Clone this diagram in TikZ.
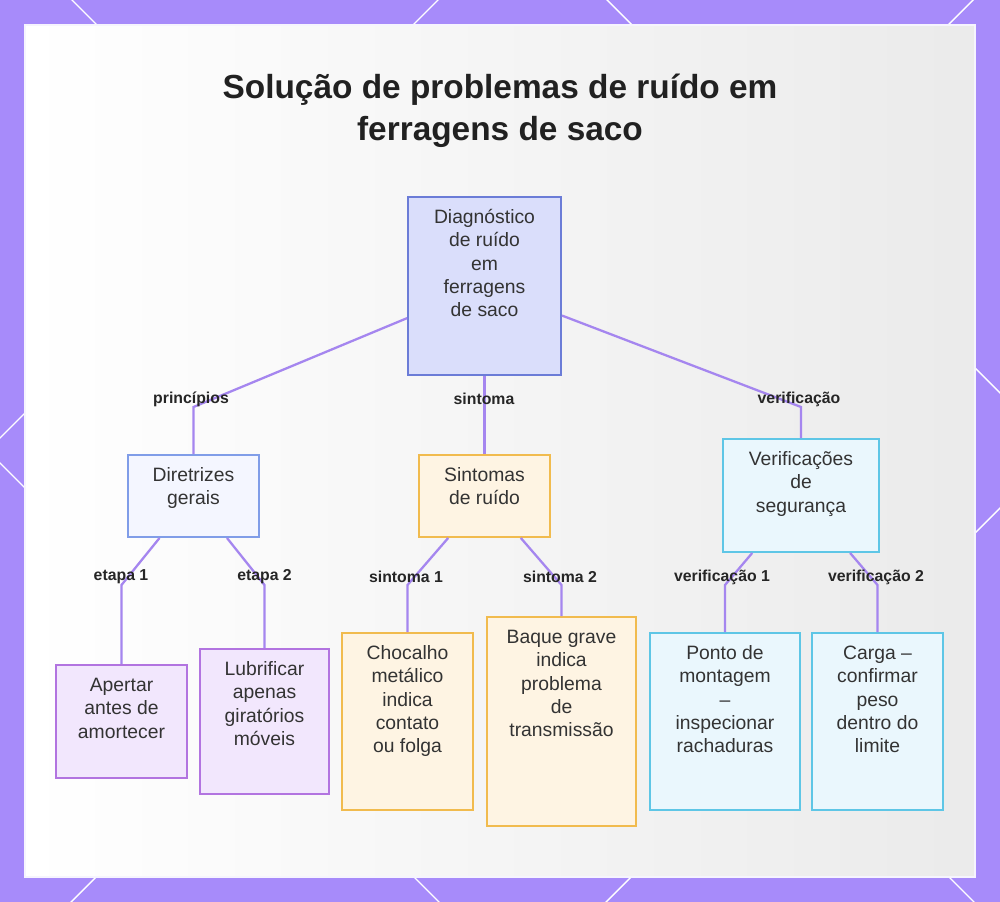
\documentclass[tikz,border=0pt]{standalone}
\usepackage{fontspec}
\setmainfont{Liberation Sans}
\usepackage{tikz}
\usetikzlibrary{positioning, calc}

\definecolor{framebg}{HTML}{A78BFA}
\definecolor{linkcol}{HTML}{A586EF}
\definecolor{inkcol}{HTML}{333333}
\definecolor{rootfill}{HTML}{DADEFB}
\definecolor{rootdraw}{HTML}{6B7CD7}
\definecolor{blufill}{HTML}{F4F6FF}
\definecolor{bludraw}{HTML}{809DE8}
\definecolor{purfill}{HTML}{F2E7FD}
\definecolor{purdraw}{HTML}{B274E0}
\definecolor{orafill}{HTML}{FEF4E3}
\definecolor{oradraw}{HTML}{F1BB4E}
\definecolor{cyafill}{HTML}{EAF7FD}
\definecolor{cyadraw}{HTML}{5EC6E6}

% box of W x H (in px of the reference), text hanging from the top
\newcommand\boxtext[3]{\parbox[c][\dimexpr 0.2mm*#2\relax][t]{\dimexpr 0.2mm*#1\relax}{\centering\vspace*{6pt}\strut #3}}

\begin{document}
\begin{tikzpicture}[
    x=0.2mm, y=-0.2mm,
    box/.style={draw, line width=1.1pt, inner sep=0pt, text=inkcol, font=\fontsize{11}{13.2}\selectfont},
    rootbox/.style={box, fill=rootfill, draw=rootdraw},
    blubox/.style={box, fill=blufill, draw=bludraw},
    purbox/.style={box, fill=purfill, draw=purdraw},
    orabox/.style={box, fill=orafill, draw=oradraw},
    cyabox/.style={box, fill=cyafill, draw=cyadraw},
    elabel/.style={font=\bfseries\fontsize{9}{11}\selectfont, text=black!85},
    link/.style={draw=linkcol, line width=1.3pt},
    title/.style={font=\bfseries\fontsize{19}{24}\selectfont, text=black!87, align=center}
]
    \useasboundingbox (0,0) rectangle (1000,902);
    % frame
    \fill[framebg] (0,0) rectangle (1000,902);
    \begin{scope}
        \clip (0,0) rectangle (1000,902);
        \foreach \c in {-463,72,607}
            \draw[white, line width=0.8pt] (\c-100,-100) -- (\c+1100,1100);
        \foreach \d in {438,973,1508}
            \draw[white, line width=0.8pt] (\d+100,-100) -- (\d-1100,1100);
    \end{scope}
    \shade[left color=white, middle color=white, right color=black!8] (25,25) rectangle (975,877);
    \draw[white!90!framebg, line width=1pt] (25,25) rectangle (975,877);

    \node[title] (title) at (500,111) {Solução de problemas de ruído em\\ferragens de saco};

    % level 0 and 1
    \node[rootbox] (root) at (484.5,286) {\boxtext{153}{178}{Diagnóstico\\de ruído\\em\\ferragens\\de saco}};
    \node[blubox] (dir) at (193.5,496) {\boxtext{131}{82}{Diretrizes\\gerais}};
    \node[orabox] (sin) at (484.5,496) {\boxtext{131}{82}{Sintomas\\de ruído}};
    \node[cyabox] (ver) at (801,495.5) {\boxtext{156}{113}{Verificações\\de\\segurança}};

    % leaves
    \node[purbox] (apertar) at (121.5,721.5) {\boxtext{131}{113}{Apertar\\antes de\\amortecer}};
    \node[purbox] (lubri) at (264.5,721.5) {\boxtext{129}{145}{Lubrificar\\apenas\\giratórios\\móveis}};
    \node[orabox] (choc) at (407.5,721.5) {\boxtext{131}{177}{Chocalho\\metálico\\indica\\contato\\ou folga}};
    \node[orabox] (baque) at (561.5,721.5) {\boxtext{149}{209}{Baque grave\\indica\\problema\\de\\transmissão}};
    \node[cyabox] (ponto) at (725,721.5) {\boxtext{150}{177}{Ponto de\\montagem\\–\\inspecionar\\rachaduras}};
    \node[cyabox] (carga) at (877.5,721.5) {\boxtext{131}{177}{Carga –\\confirmar\\peso\\dentro do\\limite}};

    % bends
    \coordinate (b1) at (193.5,407);
    \coordinate (b2) at (484.5,407);
    \coordinate (b3) at (801,407);
    \coordinate (b11) at (121.5,585);
    \coordinate (b12) at (264.5,585);
    \coordinate (b21) at (407.5,585);
    \coordinate (b22) at (561.5,585);
    \coordinate (b31) at (725,585);
    \coordinate (b32) at (877.5,585);

    \draw[link] (root) -- (b1) -- (dir);
    \draw[link] (root) -- (b2) -- (sin);
    \draw[link] (root) -- (b3) -- (ver);
    \draw[link] (dir) -- (b11) -- (apertar);
    \draw[link] (dir) -- (b12) -- (lubri);
    \draw[link] (sin) -- (b21) -- (choc);
    \draw[link] (sin) -- (b22) -- (baque);
    \draw[link] (ver) -- (b31) -- (ponto);
    \draw[link] (ver) -- (b32) -- (carga);

    \node[elabel] (l1) at (191,399) {princípios};
    \node[elabel] (l2) at (484,399) {sintoma};
    \node[elabel] (l3) at (799,399) {verificação};
    \node[elabel] (l11) at (121,577) {etapa 1};
    \node[elabel] (l12) at (264.5,577) {etapa 2};
    \node[elabel] (l21) at (406,577) {sintoma 1};
    \node[elabel] (l22) at (560,577) {sintoma 2};
    \node[elabel] (l31) at (722,577) {verificação 1};
    \node[elabel] (l32) at (876,577) {verificação 2};
\end{tikzpicture}
\end{document}
